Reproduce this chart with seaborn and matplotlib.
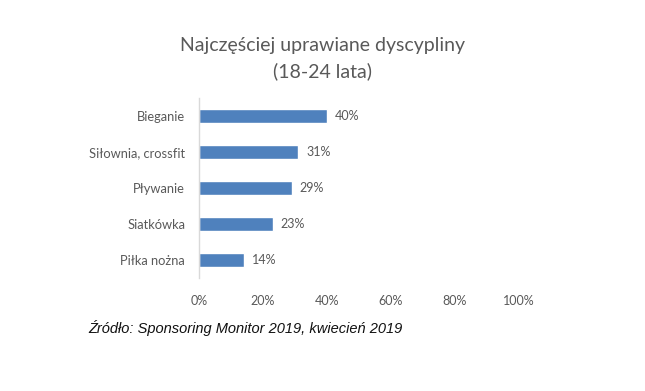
import matplotlib
matplotlib.use("Agg")
import matplotlib.pyplot as plt
import seaborn as sns
import pandas as pd

categories = ["Bieganie", "Siłownia, crossfit", "Pływanie", "Siatkówka", "Piłka nożna"]
values = [40, 31, 29, 23, 14]
xticks = [0, 20, 40, 60, 80, 100]
xtick_labels = ["0%", "20%", "40%", "60%", "80%", "100%"]

sns.set_theme(style="white")
plt.rcParams['font.family'] = ['Lato', 'DejaVu Sans']

df = pd.DataFrame({"cat": categories, "val": values})

fig = plt.figure(figsize=(6.45, 3.91), dpi=100)
ax = fig.add_axes([199/645, 1-278/391, 320/645, 180/391])
sns.barplot(data=df, x="val", y="cat", color="#4F81BD", width=0.38, ax=ax, saturation=1)

gray = "#595959"
ax.set_xlim(0, 100)
ax.set_ylim(4.5, -0.5)
ax.set_xticks(xticks)
ax.set_xticklabels(xtick_labels, color=gray, fontsize=9)
ax.tick_params(axis="x", length=0, pad=12)
ax.tick_params(axis="y", length=0, pad=10, labelsize=9.3, labelcolor=gray)
ax.set_xlabel("")
ax.set_ylabel("")
for s in ["top", "right", "bottom"]:
    ax.spines[s].set_visible(False)
ax.spines["left"].set_color("#d9d9d9")
ax.spines["left"].set_linewidth(1)

for i, v in enumerate(values):
    ax.text(v + 2.5, i, f"{v}%", va="center", ha="left", fontsize=9, color=gray)

fig.text(0.5, 1-45/391, "Najczęściej uprawiane dyscypliny", ha="center", va="center",
         fontsize=14, color=gray)
fig.text(0.5, 1-71/391, "(18-24 lata)", ha="center", va="center", fontsize=14, color=gray)

fig.text(88/645, 1-328/391, "Źródło: Sponsoring Monitor 2019, kwiecień 2019", ha="left",
         va="center", fontsize=10.5, style="italic", color="#111111",
         family=["Liberation Sans", "DejaVu Sans"])

fig.savefig("out.png", dpi=100)
